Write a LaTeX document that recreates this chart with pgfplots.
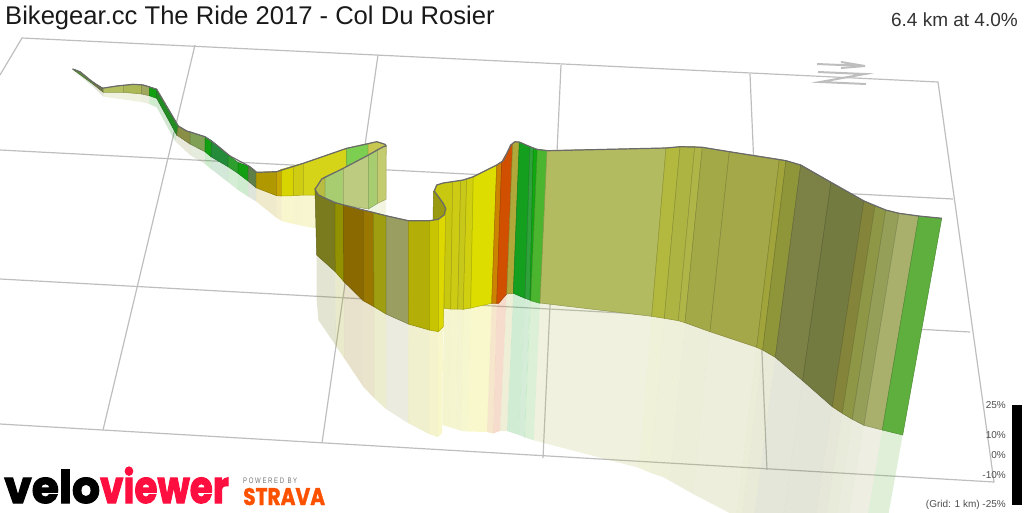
\documentclass[border=0pt]{standalone}
\usepackage{pgfplots}
\pgfplotsset{compat=1.18}
\usepackage{fontspec}
\setmainfont{Liberation Sans}
\newfontfamily\logofont{Poppins}[BoldFeatures={FakeBold=2.5}]
\newfontfamily\stravafont{Poppins}[BoldFeatures={FakeBold=1.5}]
\newcommand{\col}[2]{\definecolor{#1}{HTML}{#2}}
% back ribbon
\col{p0}{5E8A3C}\col{p1}{6E7A40}\col{p2}{B4C060}\col{p3}{ABB855}\col{p4}{A0A860}\col{p5}{10A010}\col{p6}{228B22}
\col{p7}{8A8F45}\col{p8}{7FA055}\col{p9}{10A010}\col{p10}{238B3A}\col{p11}{2E9E2E}\col{p12}{12A012}\col{p13}{5E7F48}
\col{p14}{B09800}\col{p15}{C8A800}\col{p16}{D8D400}\col{p17}{D0CC14}\col{p18}{D6D418}\col{p19}{7CCF50}\col{p20}{C8C850}
% second pass
\col{q0}{B8BC40}\col{q1}{A8CC70}\col{q2}{BDCB80}\col{q3}{A8CC70}\col{q4}{C4CC70}
% front wall
\col{f0}{7A7A1E}\col{f1}{929200}\col{f2}{8A6A00}\col{f3}{9A7800}\col{f4}{9E9E10}\col{f5}{9A9E60}\col{f6}{B4AE08}\col{f7}{C8C400}\col{f8}{DDD800}
% middle wall
\col{m0}{C8C810}\col{m1}{CECB14}\col{m2}{C8C81A}\col{m3}{D0D010}\col{m4}{DDDD00}\col{m5}{CC8400}\col{m6}{D05000}\col{m7}{B0A838}
\col{m8}{14A01E}\col{m9}{2FA23C}\col{m10}{10A810}\col{m11}{4CB530}\col{mdark}{9A9A10}
% long right section
\col{r0}{B3BB60}\col{r1}{B3B93F}\col{r2}{ADB442}\col{r3}{B0B547}\col{r4}{A4A947}\col{r5}{A4A849}\col{r6}{A0A43A}\col{r7}{8F9539}
\col{r8}{7C8246}\col{r9}{747B41}\col{r10}{84853A}\col{r11}{8E9745}\col{r12}{969F57}\col{r13}{A8B06C}\col{r14}{5FAF3E}
\col{gridc}{BEBEBE}\col{edge}{6A6A6A}\col{vvred}{FF0F3F}\col{stravaor}{FC5200}
\newcommand{\seg}[2]{\addplot[fill=#1,draw=#1!80!black,line width=.5pt] coordinates {#2} --cycle;}
\newcommand{\shd}[2]{\addplot[fill=#1,fill opacity=.2,draw=none] coordinates {#2} --cycle;}
\newcommand{\gl}[1]{\addplot[gridc,line width=1.2pt] coordinates {#1};}
\begin{document}
\begin{tikzpicture}
\useasboundingbox (0,0) rectangle (1024pt,512pt);
\begin{axis}[
  at={(0,0)}, anchor=south west,
  scale only axis, width=1024pt, height=512pt,
  xmin=0, xmax=1024, ymin=0, ymax=512, y dir=reverse,
  axis lines=none, ticks=none, no markers,
]
% grid
\gl{(0,75) (22,38) (938,82) (994,482) (0,424)}
\gl{(0,150) (953,199)}
\gl{(0,279) (970,332)}
\gl{(195,45) (103,430)}
\gl{(378,55) (322,443)}
\gl{(561,65) (543,458)}
\gl{(750,74) (767,470)}
% north arrow
\addplot[gridc,line width=2pt] coordinates {(817,64) (865,66) (841,62)};
\addplot[gridc,line width=2pt] coordinates {(865,66) (841,68)};
\addplot[gridc,line width=2pt] coordinates {(818,72) (865,74) (820,82) (866,84)};
% shadows
\shd{p0}{(73,70) (93.3,84.3) (93.3,87)}
\shd{p1}{(93.3,84.3) (103.3,92.3) (103.3,96.7) (93.3,87)}
\shd{p2}{(103.3,92.3) (123.3,92.3) (123.3,99.5) (103.3,96.7)}
\shd{p3}{(123.3,92.3) (141.7,94) (141.7,102) (123.3,99.5)}
\shd{p4}{(141.7,94) (149.3,95.7) (149.3,104) (141.7,102)}
\shd{p5}{(149.3,95.7) (156.7,98.3) (156.7,107.3) (149.3,104)}
\shd{p6}{(156.7,98.3) (176.7,135) (175,141) (156.7,107.3)}
\shd{p7}{(176.7,135) (190,144) (190,155) (175,141)}
\shd{p8}{(190,144) (205,151.7) (205,164) (190,155)}
\shd{p9}{(205,151.7) (211,156.7) (211,169) (205,164)}
\shd{p10}{(211,156.7) (228,166.7) (228,182) (211,169)}
\shd{p11}{(228,166.7) (238,173.3) (238,190) (228,182)}
\shd{p12}{(238,173.3) (248,181) (248,196.5) (238,190)}
\shd{p13}{(248,181) (256,187.7) (256,201.3) (248,196.5)}
\shd{p14}{(256,187.7) (276.7,195.7) (276.7,218) (256,201.3)}
\shd{p15}{(276.7,195.7) (281.7,196) (281.7,221) (276.7,218)}
\shd{p16}{(281.7,196) (293.3,195.7) (293.3,224) (281.7,221)}
\shd{p17}{(293.3,195.7) (303.3,195) (303.3,226) (293.3,224)}
\shd{p18}{(303.3,195) (318,194) (318,229) (303.3,226)}
\shd{q3}{(368.3,209) (377.7,203.3) (377.7,227) (368.3,232)}
\shd{q4}{(377.7,203.3) (386,199.3) (386,225) (377.7,227)}
\shd{f0}{(316.7,255) (335.3,271.7) (336,346) (318.3,320) (316.7,300)}
\shd{f1}{(335.3,271.7) (344,281.7) (344,358) (336,346)}
\shd{f2}{(344,281.7) (363.3,300.7) (363.5,387) (344,358)}
\shd{f3}{(363.3,300.7) (374,306.7) (374,398) (363.5,387)}
\shd{f4}{(374,306.7) (386,314) (386,409) (374,398)}
\shd{f5}{(386,314) (408.3,324) (408,423) (386,409)}
\shd{f6}{(408.3,324) (429.3,330) (429,434) (408,423)}
\shd{f7}{(429.3,330) (438.3,331.7) (438,437) (429,434)}
\shd{f8}{(438.3,331.7) (443.3,326.7) (442,433) (438,437)}
\shd{m0}{(444,308.3) (450.7,309) (449,427) (442.3,425)}
\shd{m1}{(450.7,309) (457.7,309) (456,429) (449,427)}
\shd{m2}{(457.7,309) (463.3,309.3) (461.5,431) (456,429)}
\shd{m3}{(463.3,309.3) (470.7,308) (468.5,431.5) (461.5,431)}
\shd{m4}{(470.7,308) (491.7,303.3) (487,432) (468.5,431.5)}
\shd{m5}{(491.7,303.3) (496.7,303.3) (493,433.5) (487,432)}
\shd{m6}{(496.7,303.3) (498.7,303.3) (506.7,294) (500,431) (493,433.5)}
\shd{m7}{(506.7,294) (513.3,293.3) (507,431) (500,431)}
\shd{m8}{(513.3,293.3) (525,298.3) (519,435) (507,431)}
\shd{m9}{(525,298.3) (530,300) (524,437) (519,435)}
\shd{m10}{(530,300) (530.7,300.7) (525,437.5) (524,437)}
\shd{m11}{(530.7,300.7) (540,303.3) (533.7,440.3) (525,437.5)}
\shd{r0}{(540,303) (651.7,316.3) (638.8,467.8) (533.7,440.3)}
\shd{r1}{(651.7,316.3) (664.3,318.3) (650.2,472.7) (638.8,467.8)}
\shd{r2}{(664.3,318.3) (678.3,320.7) (663.5,477.3) (650.2,472.7)}
\shd{r3}{(678.3,320.7) (685,322.7) (669.4,480.6) (663.5,477.3)}
\shd{r4}{(685,322.7) (710,331.7) (692.6,493.7) (669.4,480.6)}
\shd{r5}{(710,331.7) (756.7,347.3) (736.4,516.5) (692.6,493.7)}
\shd{r6}{(756.7,347.3) (762.7,350) (741.7,520.4) (736.4,516.5)}
\shd{r7}{(762.7,350) (775.3,357.3) (752.4,530.4) (741.7,520.4)}
\shd{r8}{(775.3,357.3) (802.7,380.7) (777.2,559.3) (752.4,530.4)}
\shd{r9}{(802.7,380.7) (832.3,406.7) (803.8,591.8) (777.2,559.3)}
\shd{r10}{(832.3,406.7) (842.3,413.3) (812.9,600) (803.8,591.8)}
\shd{r11}{(842.3,413.3) (852.3,419.3) (822.2,607.7) (812.9,600)}
\shd{r12}{(852.3,419.3) (864,425.3) (832.5,616.1) (822.2,607.7)}
\shd{r13}{(864,425.3) (882.3,430) (849.5,622.6) (832.5,616.1)}
\shd{r14}{(882.3,430) (902.7,435) (867.6,630) (849.5,622.6)}
% back ribbon
\seg{p0}{(72.7,69) (80,71.7) (93.3,82.3) (93.3,84.3) (73,69.5)}
\seg{p1}{(93.3,82.3) (103.3,88.3) (103.3,92.3) (93.3,84.3)}
\seg{p2}{(103.3,88.3) (116.7,86) (123.3,85.3) (123.3,92.3) (103.3,92.3)}
\seg{p3}{(123.3,85.3) (133.3,84.3) (141.7,84.7) (141.7,94) (123.3,92.3)}
\seg{p4}{(141.7,84.7) (149.3,86.7) (149.3,95.7) (141.7,94)}
\seg{p5}{(149.3,86.7) (156.7,89.3) (156.7,98.3) (149.3,95.7)}
\seg{p6}{(156.7,89.3) (178.3,126) (176.7,135) (156.7,98.3)}
\seg{p7}{(178.3,126) (186.7,131) (190,131.7) (190,144) (176.7,135)}
\seg{p8}{(190,131.7) (205,136.7) (205,151.7) (190,144)}
\seg{p9}{(205,136.7) (211.7,140.7) (211,156.7) (205,151.7)}
\seg{p10}{(211.7,140.7) (228.3,155) (228,166.7) (211,156.7)}
\seg{p11}{(228.3,155) (238.3,162.7) (238,173.3) (228,166.7)}
\seg{p12}{(238.3,162.7) (248.3,166) (248,181) (238,173.3)}
\seg{p13}{(248.3,166) (256,172.3) (256,187.7) (248,181)}
\seg{p14}{(256,172.3) (276.7,171.7) (276.7,195.7) (256,187.7)}
\seg{p15}{(276.7,171.7) (281.7,169.3) (281.7,196) (276.7,195.7)}
\seg{p16}{(281.7,169.3) (293.3,166) (293.3,195.7) (281.7,196)}
\seg{p17}{(293.3,166) (303.3,163.3) (303.3,195) (293.3,195.7)}
\seg{p18}{(303.3,163.3) (346.7,148.3) (346.7,185) (316,195) (303.3,195)}
\seg{p19}{(346.7,148.3) (368,143.5) (368,165) (346.7,175)}
\seg{p20}{(368,143.5) (376.7,141.7) (385,144.3) (386,146) (386,155) (368,165)}
% second pass
\seg{q0}{(315,189.3) (321.7,179) (325,176.7) (325,198) (315,192)}
\seg{q1}{(325,176.7) (343.3,168.3) (343.3,205) (325,198)}
\seg{q2}{(343.3,168.3) (368.3,155) (368.3,209) (343.3,205)}
\seg{q3}{(368.3,155) (377.7,149.3) (377.7,203.3) (368.3,209)}
\seg{q4}{(377.7,149.3) (383.3,146.7) (386,145) (386,199.3) (377.7,203.3)}
% middle wall
\seg{m0}{(434.3,190) (436.7,185) (443.3,183) (452.7,181.7) (450.7,309) (444,308.3) (445.7,210) (434.3,191)}
\seg{m1}{(452.7,181.7) (460.7,180.7) (457.7,309) (450.7,309)}
\seg{m2}{(460.7,180.7) (466.7,179) (463.3,309.3) (457.7,309)}
\seg{m3}{(466.7,179) (473.3,176.7) (470.7,308) (463.3,309.3)}
\seg{m4}{(473.3,176.7) (496.7,165) (491.7,303.3) (470.7,308)}
\seg{m5}{(496.7,165) (501.7,161.7) (496.7,303.3) (491.7,303.3)}
\seg{m6}{(501.7,161.7) (504,157.7) (512.7,143.3) (506.7,294) (498.7,303.3) (496.7,303.3)}
\seg{m7}{(512.7,143.3) (515,141.7) (519.3,142) (513.3,293.3) (506.7,294)}
\seg{m8}{(519.3,142) (530,146.7) (525,298.3) (513.3,293.3)}
\seg{m9}{(530,146.7) (533.3,148) (530,300) (525,298.3)}
\seg{m10}{(533.3,148) (537.3,149.3) (530.7,300.7) (530,300)}
\seg{m11}{(537.3,149.3) (548,150.7) (540,303.3) (530.7,300.7)}
\seg{mdark}{(433.5,191) (444,205) (446,210) (444,218) (433,222)}
% front wall
\seg{f0}{(315,189.3) (318.3,195) (335,202.7) (335.3,271.7) (316.7,255)}
\seg{f1}{(335,202.7) (343.3,205) (344,281.7) (335.3,271.7)}
\seg{f2}{(343.3,205) (363.3,210) (363.3,300.7) (344,281.7)}
\seg{f3}{(363.3,210) (373.3,212.3) (374,306.7) (363.3,300.7)}
\seg{f4}{(373.3,212.3) (386,215.7) (386,314) (374,306.7)}
\seg{f5}{(386,215.7) (408.3,220.7) (408.3,324) (386,314)}
\seg{f6}{(408.3,220.7) (429.3,220.7) (429.3,330) (408.3,324)}
\seg{f7}{(429.3,220.7) (438.3,219.3) (438.3,331.7) (429.3,330)}
\seg{f8}{(438.3,219.3) (444,215) (445.7,208.3) (443.3,326.7) (438.3,331.7)}
% long right section
\seg{r0}{(547,150.5) (666,148) (651.7,316.3) (540,303)}
\seg{r1}{(666,148) (680,146.7) (664.3,318.3) (651.7,316.3)}
\seg{r2}{(680,146.7) (694.7,146.7) (678.3,320.7) (664.3,318.3)}
\seg{r3}{(694.7,146.7) (702.3,147.3) (685,322.7) (678.3,320.7)}
\seg{r4}{(702.3,147.3) (729.3,151.7) (710,331.7) (685,322.7)}
\seg{r5}{(729.3,151.7) (779.3,159.3) (756.7,347.3) (710,331.7)}
\seg{r6}{(779.3,159.3) (786,160.7) (762.7,350) (756.7,347.3)}
\seg{r7}{(786,160.7) (800.7,165) (775.3,357.3) (762.7,350)}
\seg{r8}{(800.7,165) (831,182.3) (802.7,380.7) (775.3,357.3)}
\seg{r9}{(831,182.3) (864,201) (832.3,406.7) (802.7,380.7)}
\seg{r10}{(864,201) (875,206) (842.3,413.3) (832.3,406.7)}
\seg{r11}{(875,206) (885.7,210) (852.3,419.3) (842.3,413.3)}
\seg{r12}{(885.7,210) (899,213.3) (864,425.3) (852.3,419.3)}
\seg{r13}{(899,213.3) (918.7,216) (882.3,430) (864,425.3)}
\seg{r14}{(918.7,216) (941.7,218.3) (902.7,435) (882.3,430)}
% road line along the top
\addplot[edge,line width=1.2pt,line join=round] coordinates {
 (72.7,69) (80,71.7) (90,80) (101.7,88.3) (116.7,86) (133.3,84.3) (143.3,85) (156.7,89.3)
 (178.3,126) (186.7,131) (205,136.7) (216.7,145) (230,156) (250,166.7) (256.7,172.3)
 (276.7,171.7) (303.3,163.3) (346.7,148.3) (366.7,144) (376.7,141.7) (385,144.3) (386,146)
 (383.3,146.7) (366.7,156) (343.3,168.3) (321.7,179) (315,189.3) (318.3,195) (335,202.7)
 (363.3,210) (386,215.7) (408.3,220.7) (429.3,220.7) (438.3,219.3) (444,215) (445.7,208.3)
 (443,203) (434.3,191) (436.7,185) (443.3,183) (463.3,180) (473.3,176.7) (496.7,165)
 (503.3,160.7) (510.7,145) (515,141.7) (520,142.3) (530,146.7) (536.7,149.3) (548,150.7)
 (666,148) (680,146.7) (702.3,147.3) (729.3,151.7) (786,160.7) (800.7,165) (831,182.3)
 (864,201) (885.7,210) (899,213.3) (918.7,216) (941.7,218.3)};
% gradient key
\addplot[fill=black,draw=none] coordinates {(1012,405) (1022,405) (1022,505) (1012,505)} --cycle;
% text
\node[anchor=west,inner sep=0pt,text=black!90] at (axis cs:5,18) {\fontsize{25.6}{26}\selectfont Bikegear.cc The Ride 2017 - Col Du Rosier};
\node[anchor=east,inner sep=0pt,text=black!80] at (axis cs:1018,20) {\fontsize{19}{19}\selectfont 6.4 km at 4.0\%};
\foreach \y/\t in {405/25\%,435/10\%,455/0\%,475/-10\%,505/(Grid: 1 km) -25\%}{
  \edef\tmp{\noexpand\node[anchor=east,inner sep=0pt,text=black!70] at (axis cs:1006,\y) {\noexpand\fontsize{10}{11}\noexpand\selectfont \t};}
  \tmp
}
\node[anchor=base west,inner sep=0pt] at (axis cs:4,503) {\logofont\bfseries\fontsize{45}{45}\selectfont\scalebox{.98}[1]{\textcolor{black}{velo}}\scalebox{.83}[1]{\textcolor{vvred}{viewer}}};
\node[anchor=base west,inner sep=0pt,text=black!55] at (axis cs:243,483) {\scalebox{.75}[1]{\fontsize{8}{8}\selectfont P O W E R E D\ \ B Y}};
\node[anchor=base west,inner sep=0pt,text=stravaor] at (axis cs:243,505) {\stravafont\bfseries\fontsize{24}{24}\selectfont\scalebox{.84}[1]{STRAVA}};
\end{axis}
\end{tikzpicture}
\end{document}
